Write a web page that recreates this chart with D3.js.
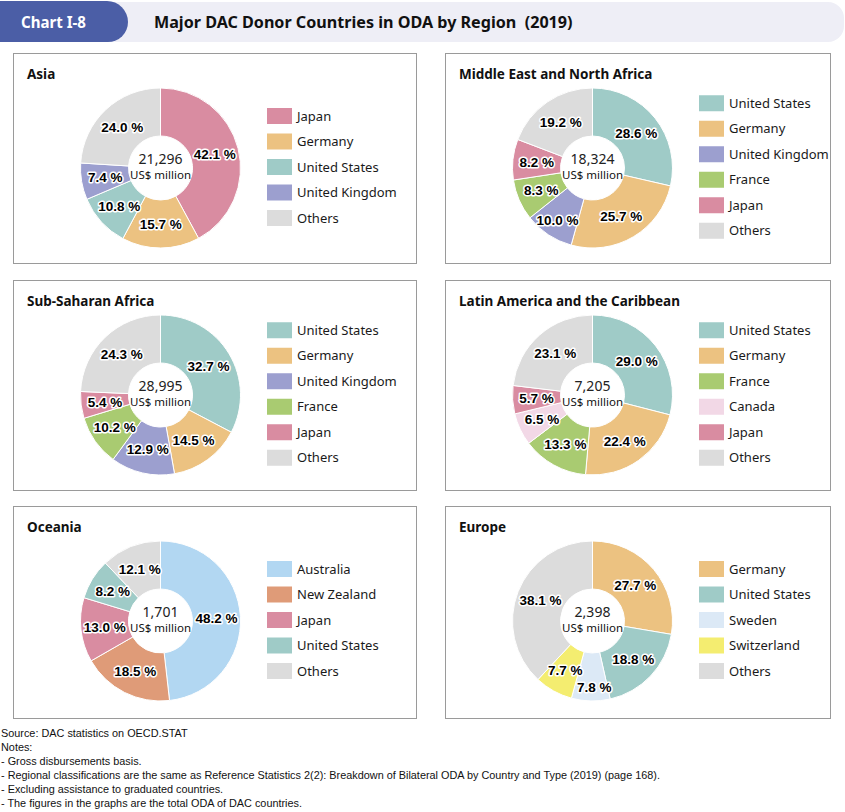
<!DOCTYPE html>
<html>
<head>
<meta charset="utf-8">
<script src="https://cdn.jsdelivr.net/npm/d3@7"></script>
<style>
  html, body { margin: 0; padding: 0; background: #ffffff; }
  svg { display: block; }
  text { white-space: pre; }
</style>
</head>
<body>
<svg id="chart" width="845" height="812"></svg>
<script>
// ---------- DATA ----------
const chartTag = "Chart I-8";
const chartTitle = "Major DAC Donor Countries in ODA by Region  (2019)";

const regions = ["Asia", "Middle East and North Africa", "Sub-Saharan Africa",
                 "Latin America and the Caribbean", "Oceania", "Europe"];
const totals = ["21,296", "18,324", "28,995", "7,205", "1,701", "2,398"];
const totalUnit = "US$ million";

const asiaDonors = ["Japan", "Germany", "United States", "United Kingdom", "Others"];
const asiaShares = [42.1, 15.7, 10.8, 7.4, 24.0];

const menaDonors = ["United States", "Germany", "United Kingdom", "France", "Japan", "Others"];
const menaShares = [28.6, 25.7, 10.0, 8.3, 8.2, 19.2];

const ssaDonors = ["United States", "Germany", "United Kingdom", "France", "Japan", "Others"];
const ssaShares = [32.7, 14.5, 12.9, 10.2, 5.4, 24.3];

const lacDonors = ["United States", "Germany", "France", "Canada", "Japan", "Others"];
const lacShares = [29.0, 22.4, 13.3, 6.5, 5.7, 23.1];

const oceDonors = ["Australia", "New Zealand", "Japan", "United States", "Others"];
const oceShares = [48.2, 18.5, 13.0, 8.2, 12.1];

const eurDonors = ["Germany", "United States", "Sweden", "Switzerland", "Others"];
const eurShares = [27.7, 18.8, 7.8, 7.7, 38.1];

const donorNames = ["Japan", "Germany", "United States", "United Kingdom", "France",
                    "Canada", "Australia", "New Zealand", "Sweden", "Switzerland", "Others"];
const donorColors = ["#d98ca1", "#ecc281", "#9fcbc7", "#9c9fcf", "#a9cb71",
                     "#f2d8e6", "#b2d7f2", "#df9b78", "#dce9f6", "#f4ed70", "#dcdcdc"];

const notes = [
  "Source: DAC statistics on OECD.STAT",
  "Notes:",
  "- Gross disbursements basis.",
  "- Regional classifications are the same as Reference Statistics 2(2): Breakdown of Bilateral ODA by Country and Type (2019) (page 168).",
  "- Excluding assistance to graduated countries.",
  "- The figures in the graphs are the total ODA of DAC countries."
];

// ---------- BUILD ----------
const panelsData = [
  {donors: asiaDonors, shares: asiaShares},
  {donors: menaDonors, shares: menaShares},
  {donors: ssaDonors, shares: ssaShares},
  {donors: lacDonors, shares: lacShares},
  {donors: oceDonors, shares: oceShares},
  {donors: eurDonors, shares: eurShares}
].map((d, i) => ({...d, region: regions[i], total: totals[i]}));

const color = d3.scaleOrdinal().domain(donorNames).range(donorColors);
const svg = d3.select("#chart");

const sansFont = "'Noto Sans', 'Open Sans', sans-serif";
const labelFont = "'Liberation Sans', Arial, sans-serif";

function fitText(sel, targetWidth) {
  const node = sel.node();
  const fs = parseFloat(sel.attr("font-size"));
  const w = node.getComputedTextLength();
  if (w > 0) sel.attr("font-size", (fs * targetWidth / w).toFixed(2));
}

// Header
const header = svg.append("g");
header.append("rect").attr("x", 100).attr("y", 2).attr("width", 744).attr("height", 40)
  .attr("rx", 16).attr("fill", "#eeeef6");
header.append("path")
  .attr("d", "M0,1 H107 A21,21 0 0 1 128,22 A20,20 0 0 1 108,42 H0 Z")
  .attr("fill", "#4b5ea6");
const tag = header.append("text").attr("x", 21).attr("y", 27.5)
  .attr("font-family", sansFont).attr("font-weight", "bold").attr("font-size", 16)
  .attr("fill", "#ffffff").text(chartTag);
fitText(tag, 65);
const ttl = header.append("text").attr("x", 154).attr("y", 27.5)
  .attr("xml:space", "preserve")
  .attr("font-family", sansFont).attr("font-weight", "bold").attr("font-size", 16)
  .attr("fill", "#111111").text(chartTitle);
fitText(ttl, 419);

// Panels layout
const colX = [13, 445];
const colW = [403, 385];
const rowY = [53, 280, 506];
const rowH = [210, 210, 212];

const outerR = 80, innerR = 32;
const arc = d3.arc().innerRadius(innerR).outerRadius(outerR);
const labelArc = d3.arc().innerRadius((innerR + outerR) / 2).outerRadius((innerR + outerR) / 2);
const pie = d3.pie().sort(null).value(d => d.share);

// small nudges for crowded labels (region index | donor) -> [dx, dy]
const nudges = {"5|Sweden": [3, 10], "1|United Kingdom": [-4, 5]};

panelsData.forEach((p, i) => {
  const col = i % 2, row = Math.floor(i / 2);
  const px = colX[col], py = rowY[row];
  const g = svg.append("g").attr("transform", `translate(${px},${py})`);

  g.append("rect").attr("x", 0.5).attr("y", 0.5)
    .attr("width", colW[col]).attr("height", rowH[row])
    .attr("fill", "#ffffff").attr("stroke", "#9a9a9a").attr("stroke-width", 1);

  g.append("text").attr("x", 14).attr("y", 26)
    .attr("font-family", sansFont).attr("font-weight", "bold").attr("font-size", 13.5)
    .attr("fill", "#111111").text(p.region);

  const cx = 147.5, cy = 115;
  const items = p.donors.map((d, k) => ({donor: d, share: p.shares[k]}));
  const arcs = pie(items);
  const dg = g.append("g").attr("transform", `translate(${cx},${cy})`);

  dg.selectAll("path").data(arcs).join("path")
    .attr("d", arc).attr("fill", d => color(d.data.donor))
    .attr("stroke", "#ffffff").attr("stroke-width", 1);

  dg.append("text").attr("x", 0).attr("y", -4).attr("text-anchor", "middle")
    .attr("font-family", sansFont).attr("font-size", 14).attr("fill", "#222222")
    .text(p.total);
  dg.append("text").attr("x", 0).attr("y", 10.5).attr("text-anchor", "middle")
    .attr("font-family", sansFont).attr("font-size", 11.5).attr("fill", "#111111")
    .text(totalUnit);

  dg.selectAll("text.pct").data(arcs).join("text")
    .attr("class", "pct")
    .attr("transform", d => {
      const [x, y] = labelArc.centroid(d);
      const n = nudges[i + "|" + d.data.donor] || [0, 0];
      return `translate(${x + n[0]},${y + n[1]})`;
    })
    .attr("text-anchor", "middle").attr("dy", "0.36em")
    .attr("font-family", labelFont).attr("font-weight", "bold").attr("font-size", 13.5)
    .attr("fill", "#000000").attr("stroke", "#ffffff").attr("stroke-width", 3)
    .attr("stroke-linejoin", "round").attr("paint-order", "stroke")
    .text(d => d.data.share.toFixed(1) + " %");

  // legend
  const step = 25.5;
  const n = p.donors.length;
  const top = cy - 1 - (n - 1) * step / 2;
  const lg = g.append("g");
  const li = lg.selectAll("g").data(p.donors).join("g")
    .attr("transform", (d, k) => `translate(254,${top + k * step})`);
  li.append("rect").attr("x", 0).attr("y", -8).attr("width", 25).attr("height", 16)
    .attr("fill", d => color(d));
  li.append("text").attr("x", 30).attr("y", 0).attr("dy", "0.35em")
    .attr("font-family", sansFont).attr("font-size", 13).attr("fill", "#1a1a1a")
    .text(d => d);
});

// Footer notes
const fg = svg.append("g");
const noteTexts = fg.selectAll("text").data(notes).join("text")
  .attr("x", 1).attr("y", (d, k) => 737 + k * 14)
  .attr("font-family", "'Liberation Sans Narrow', 'Liberation Sans', Arial, sans-serif")
  .attr("font-size", 11.5).attr("fill", "#111111")
  .text(d => d);
const longest = noteTexts.filter((d, k) => k === 3);
const w0 = longest.node().getComputedTextLength();
noteTexts.attr("font-size", (11.5 * 659 / w0).toFixed(2));
</script>
</body>
</html>
